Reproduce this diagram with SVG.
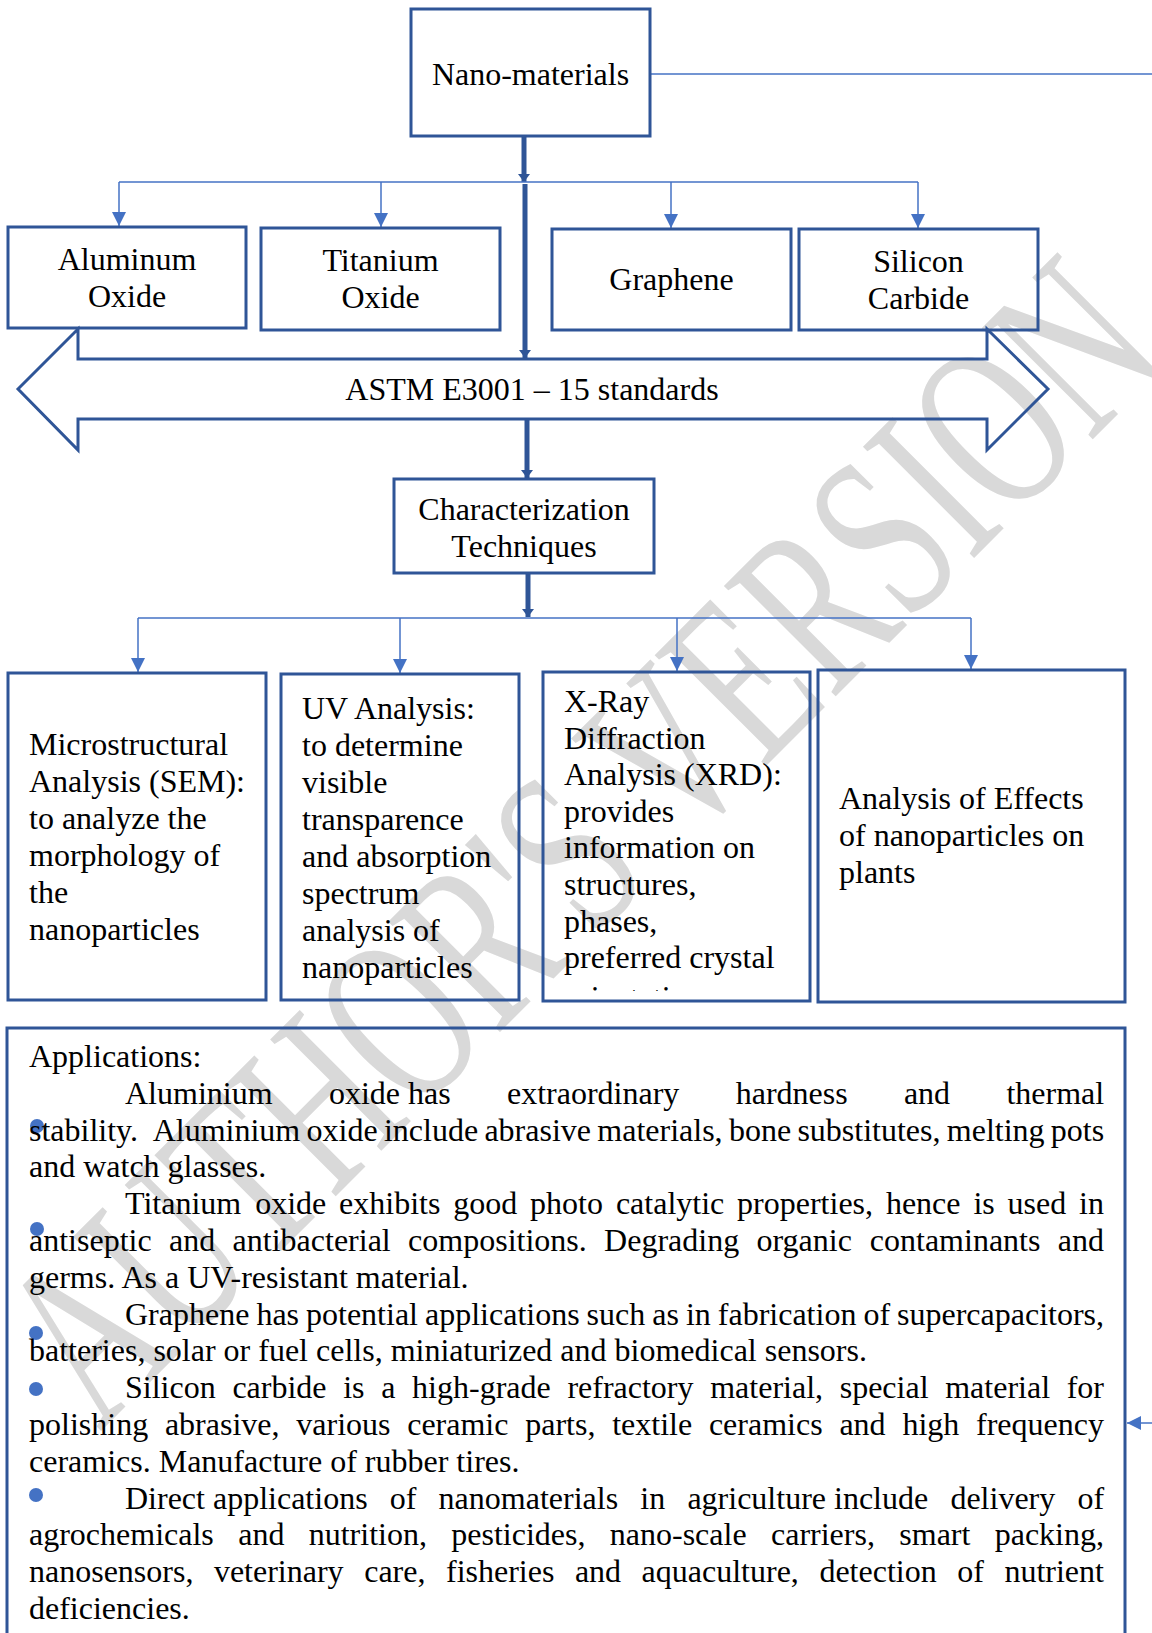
<svg xmlns="http://www.w3.org/2000/svg" width="1152" height="1633" viewBox="0 0 1152 1633">
<defs>
<style>
text{font-family:"Liberation Serif","Times New Roman",serif;font-size:32px;fill:#000}
.c{text-anchor:middle}
.box{fill:none;stroke:#2F5597;stroke-width:3}
.thin{fill:none;stroke:#4472C4;stroke-width:1.5}
.thick{fill:none;stroke:#2F5597;stroke-width:5}
.wm{font-size:160px;fill:#d9d9d9}
.dot{fill:#4472C4}
</style>
<marker id="ah" markerUnits="userSpaceOnUse" markerWidth="14" markerHeight="14" refX="14" refY="7" orient="auto"><path d="M0,0 L14,7 L0,14 z" fill="#4472C4"/></marker>
<marker id="ahk" markerUnits="userSpaceOnUse" markerWidth="10" markerHeight="12" refX="8" refY="6" orient="auto"><path d="M0,0 L8,6 L0,12 z" fill="#2F5597"/></marker>
<clipPath id="xrdclip"><rect x="545" y="674" width="263" height="317"/></clipPath>
</defs>
<rect width="1152" height="1633" fill="#fff"/>
<text class="wm" transform="translate(100,1432) rotate(-45) scale(1,1.5)">AUTHOR'S VERSION</text>

<g id="connectors">
<line class="thin" x1="650" y1="74" x2="1152" y2="74"/>
<line class="thin" x1="1152" y1="1423" x2="1127" y2="1423" marker-end="url(#ah)"/>
<line class="thick" x1="524" y1="137" x2="524" y2="182" marker-end="url(#ahk)"/>
<line class="thin" x1="119" y1="182" x2="918" y2="182"/>
<line class="thin" x1="119" y1="182" x2="119" y2="226" marker-end="url(#ah)"/>
<line class="thin" x1="381" y1="182" x2="381" y2="227" marker-end="url(#ah)"/>
<line class="thin" x1="671" y1="182" x2="671" y2="228" marker-end="url(#ah)"/>
<line class="thin" x1="918" y1="182" x2="918" y2="228" marker-end="url(#ah)"/>
<line class="thick" x1="525" y1="184" x2="525" y2="358" marker-end="url(#ahk)"/>
<line class="thick" x1="527" y1="420" x2="527" y2="478" marker-end="url(#ahk)"/>
<line class="thick" x1="528" y1="574" x2="528" y2="617" marker-end="url(#ahk)"/>
<line class="thin" x1="138" y1="618" x2="971" y2="618"/>
<line class="thin" x1="138" y1="618" x2="138" y2="672" marker-end="url(#ah)"/>
<line class="thin" x1="400" y1="618" x2="400" y2="673" marker-end="url(#ah)"/>
<line class="thin" x1="677" y1="618" x2="677" y2="671" marker-end="url(#ah)"/>
<line class="thin" x1="971" y1="618" x2="971" y2="669" marker-end="url(#ah)"/>
</g>

<g id="nano">
<rect class="box" x="411" y="9" width="239" height="127"/>
<text class="c" x="530.5" y="85">Nano-materials</text>
</g>
<g id="aluminum">
<rect class="box" x="8" y="227" width="238" height="101"/>
<text class="c" x="127" y="270">Aluminum</text>
<text class="c" x="127" y="307">Oxide</text>
</g>
<g id="titanium">
<rect class="box" x="261" y="228" width="239" height="102"/>
<text class="c" x="380.5" y="271">Titanium</text>
<text class="c" x="380.5" y="308">Oxide</text>
</g>
<g id="graphene">
<rect class="box" x="552" y="229" width="239" height="101"/>
<text class="c" x="671.5" y="290">Graphene</text>
</g>
<g id="silicon">
<rect class="box" x="799" y="229" width="239" height="101"/>
<text class="c" x="918.5" y="272">Silicon</text>
<text class="c" x="918.5" y="309">Carbide</text>
</g>
<g id="astm">
<path class="box" d="M18,389 L78,329 L78,359 L987,359 L987,329 L1048,389 L987,450 L987,419 L78,419 L78,450 Z" stroke-linejoin="miter"/>
<text class="c" x="532" y="400">ASTM E3001 – 15 standards</text>
</g>
<g id="characterization">
<rect class="box" x="394" y="479" width="260" height="94"/>
<text class="c" x="524" y="520">Characterization</text>
<text class="c" x="524" y="557">Techniques</text>
</g>
<g id="sem">
<rect class="box" x="8" y="673" width="258" height="327"/>
<text x="29" y="755">Microstructural</text>
<text x="29" y="792">Analysis (SEM):</text>
<text x="29" y="829">to analyze the</text>
<text x="29" y="866">morphology of</text>
<text x="29" y="903">the</text>
<text x="29" y="940">nanoparticles</text>
</g>
<g id="uv">
<rect class="box" x="281" y="674" width="238" height="326"/>
<text x="302" y="719">UV Analysis:</text>
<text x="302" y="756">to determine</text>
<text x="302" y="793">visible</text>
<text x="302" y="830">transparence</text>
<text x="302" y="867">and absorption</text>
<text x="302" y="904">spectrum</text>
<text x="302" y="941">analysis of</text>
<text x="302" y="978">nanoparticles</text>
</g>
<g id="xrd">
<rect class="box" x="543" y="672" width="267" height="329"/>
<text x="564" y="712">X-Ray</text>
<text x="564" y="748.6">Diffraction</text>
<text x="564" y="785.2">Analysis (XRD):</text>
<text x="564" y="821.8">provides</text>
<text x="564" y="858.4">information on</text>
<text x="564" y="895">structures,</text>
<text x="564" y="931.6">phases,</text>
<text x="564" y="968.2">preferred crystal</text>
<text x="564" y="1007.5" clip-path="url(#xrdclip)">orientation</text>
</g>
<g id="effects">
<rect class="box" x="818" y="670" width="307" height="332"/>
<text x="839" y="809">Analysis of Effects</text>
<text x="839" y="846">of nanoparticles on</text>
<text x="839" y="883">plants</text>
</g>
<g id="applications">
<rect class="box" x="7" y="1028" width="1118" height="640"/>
<circle class="dot" cx="37" cy="1126" r="7"/>
<circle class="dot" cx="37" cy="1229" r="7"/>
<circle class="dot" cx="36" cy="1333" r="7"/>
<circle class="dot" cx="36" cy="1389" r="7"/>
<circle class="dot" cx="36" cy="1495" r="7"/>
<text x="29" y="1067">Applications:</text>
<text y="1103.8"><tspan x="125">Aluminium</tspan><tspan x="328.9">oxide has</tspan><tspan x="507">extraordinary</tspan><tspan x="735.7">hardness</tspan><tspan x="903.9">and</tspan><tspan x="1006.4">thermal</tspan></text>
<text y="1140.6"><tspan x="29">stability.</tspan><tspan x="152.7">Aluminium</tspan><tspan x="306.5">oxide</tspan><tspan x="383.9">include</tspan><tspan x="484.4">abrasive</tspan><tspan x="597.3">materials,</tspan><tspan x="728.9">bone</tspan><tspan x="797.4">substitutes,</tspan><tspan x="946.8">melting</tspan><tspan x="1050.8">pots</tspan></text>
<text x="29" y="1177.4">and watch glasses.</text>
<text y="1214.2"><tspan x="125">Titanium</tspan><tspan x="255.2">oxide</tspan><tspan x="339.1">exhibits</tspan><tspan x="453.3">good</tspan><tspan x="530.1">photo</tspan><tspan x="615.9">catalytic</tspan><tspan x="737.1">properties,</tspan><tspan x="885.9">hence</tspan><tspan x="973.4">is</tspan><tspan x="1007.6">used</tspan><tspan x="1079.1">in</tspan></text>
<text y="1251"><tspan x="29">antiseptic</tspan><tspan x="169">and</tspan><tspan x="232.6">antibacterial</tspan><tspan x="408.1">compositions.</tspan><tspan x="604.1">Degrading</tspan><tspan x="756.5">organic</tspan><tspan x="869.8">contaminants</tspan><tspan x="1057.8">and</tspan></text>
<text x="29" y="1287.8">germs. As a UV-resistant material.</text>
<text y="1324.6"><tspan x="125">Graphene</tspan><tspan x="256.4">has</tspan><tspan x="306">potential</tspan><tspan x="425">applications</tspan><tspan x="586.6">such</tspan><tspan x="652.3">as</tspan><tspan x="685.9">in</tspan><tspan x="717.8">fabrication</tspan><tspan x="863.4">of</tspan><tspan x="897">supercapacitors,</tspan></text>
<text x="29" y="1361.4">batteries, solar or fuel cells, miniaturized and biomedical sensors.</text>
<text y="1398.2"><tspan x="125">Silicon</tspan><tspan x="232.4">carbide</tspan><tspan x="343.2">is</tspan><tspan x="381.2">a</tspan><tspan x="412.1">high-grade</tspan><tspan x="567.4">refractory</tspan><tspan x="710.2">material,</tspan><tspan x="839.7">special</tspan><tspan x="945.2">material</tspan><tspan x="1066.7">for</tspan></text>
<text y="1435"><tspan x="29">polishing</tspan><tspan x="164.9">abrasive,</tspan><tspan x="296.3">various</tspan><tspan x="407.2">ceramic</tspan><tspan x="525.2">parts,</tspan><tspan x="612.2">textile</tspan><tspan x="708.9">ceramics</tspan><tspan x="839.4">and</tspan><tspan x="902.4">high</tspan><tspan x="976">frequency</tspan></text>
<text x="29" y="1471.8">ceramics. Manufacture of rubber tires.</text>
<text y="1508.6"><tspan x="125">Direct applications</tspan><tspan x="389.8">of</tspan><tspan x="438.6">nanomaterials</tspan><tspan x="640.3">in</tspan><tspan x="687.4">agriculture include</tspan><tspan x="950.4">delivery</tspan><tspan x="1077.4">of</tspan></text>
<text y="1545.4"><tspan x="29">agrochemicals</tspan><tspan x="238.2">and</tspan><tspan x="308.7">nutrition,</tspan><tspan x="451.3">pesticides,</tspan><tspan x="609.8">nano-scale</tspan><tspan x="771">carriers,</tspan><tspan x="899.3">smart</tspan><tspan x="994.7">packing,</tspan></text>
<text y="1582.2"><tspan x="29">nanosensors,</tspan><tspan x="213.9">veterinary</tspan><tspan x="364.2">care,</tspan><tspan x="446">fisheries</tspan><tspan x="574.9">and</tspan><tspan x="641.6">aquaculture,</tspan><tspan x="819.4">detection</tspan><tspan x="957.2">of</tspan><tspan x="1004.4">nutrient</tspan></text>
<text x="29" y="1619">deficiencies.</text>
</g>
</svg>
